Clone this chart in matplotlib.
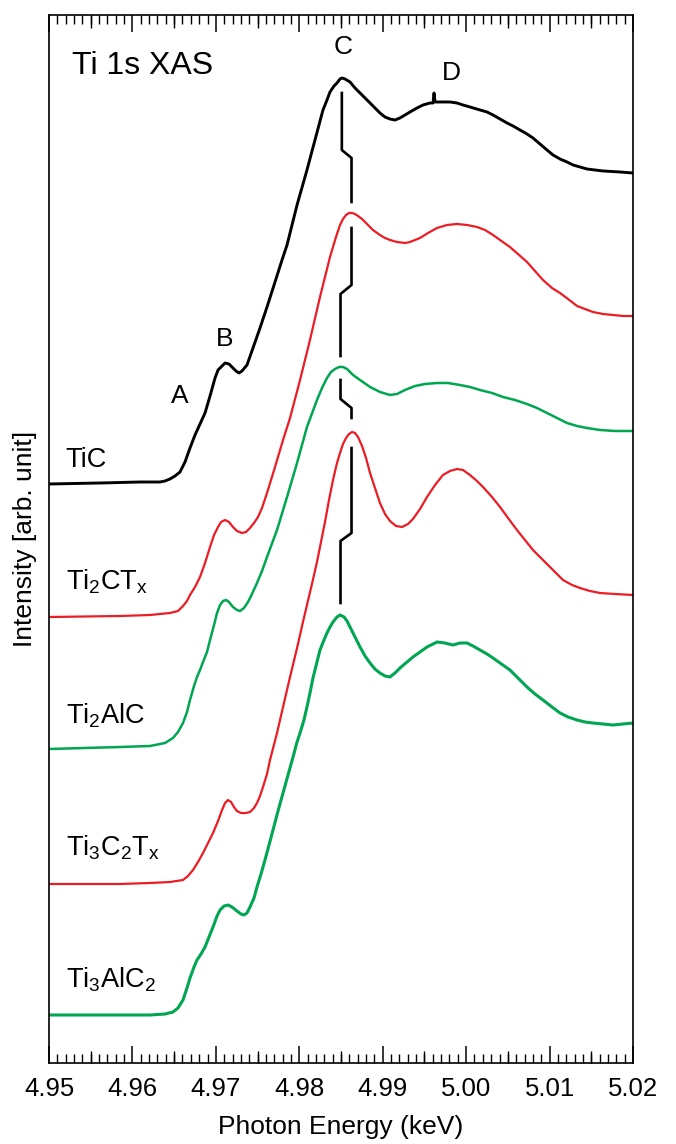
import matplotlib.pyplot as plt
from matplotlib.ticker import MultipleLocator, FormatStrFormatter

plt.rcParams['font.family'] = ['Liberation Sans', 'DejaVu Sans']
plt.rcParams['mathtext.fontset'] = 'custom'
plt.rcParams['mathtext.rm'] = 'Liberation Sans'

# %%
# spectra (photon energy in keV, normalised intensity)

# TiC
tic_e = [4.95000, 4.95611, 4.96091, 4.96330, 4.96390, 4.96450, 4.96510, 4.96570,
         4.96630, 4.96690, 4.96750, 4.96810, 4.96870, 4.96930, 4.96990, 4.97026,
         4.97074, 4.97110, 4.97157, 4.97205, 4.97241, 4.97277, 4.97313, 4.97373,
         4.97445, 4.97529, 4.97613, 4.97709, 4.97793, 4.97853, 4.97913, 4.97973,
         4.98092, 4.98188, 4.98284, 4.98332, 4.98368, 4.98416, 4.98452, 4.98488,
         4.98512, 4.98548, 4.98608, 4.98668, 4.98728, 4.98788, 4.98848, 4.98907,
         4.98967, 4.99027, 4.99087, 4.99147, 4.99207, 4.99267, 4.99327, 4.99411,
         4.99483, 4.99567, 4.99603, 4.99615, 4.99627, 4.99687, 4.99806, 4.99890,
         4.99962, 5.00046, 5.00166, 5.00250, 5.00322, 5.00406, 5.00490, 5.00562,
         5.00645, 5.00729, 5.00801, 5.00885, 5.00969, 5.01041, 5.01125, 5.01209,
         5.01281, 5.01365, 5.01449, 5.01544, 5.01640, 5.01844, 5.02000]
tic_i = [0.00, 0.01, 0.02, 0.02, 0.03, 0.05, 0.08, 0.12,
         0.22, 0.36, 0.49, 0.60, 0.71, 0.88, 1.06, 1.14,
         1.18, 1.21, 1.20, 1.16, 1.13, 1.11, 1.13, 1.19,
         1.36, 1.56, 1.77, 2.02, 2.24, 2.39, 2.59, 2.79,
         3.14, 3.44, 3.74, 3.84, 3.92, 3.98, 4.01, 4.05,
         4.06, 4.05, 4.02, 3.96, 3.91, 3.86, 3.81, 3.76,
         3.71, 3.67, 3.65, 3.64, 3.66, 3.69, 3.72, 3.76,
         3.79, 3.81, 3.81, 3.91, 3.82, 3.82, 3.82, 3.81,
         3.79, 3.77, 3.74, 3.72, 3.69, 3.65, 3.61, 3.58,
         3.54, 3.50, 3.46, 3.40, 3.34, 3.29, 3.25, 3.22,
         3.19, 3.17, 3.15, 3.14, 3.13, 3.12, 3.11]

# Ti2CTx
ti2ctx_e = [4.95000, 4.95851, 4.96211, 4.96450, 4.96546, 4.96606, 4.96654, 4.96690,
            4.96750, 4.96810, 4.96870, 4.96930, 4.96978, 4.97026, 4.97062, 4.97110,
            4.97157, 4.97205, 4.97253, 4.97313, 4.97361, 4.97409, 4.97457, 4.97505,
            4.97553, 4.97613, 4.97709, 4.97805, 4.97889, 4.98009, 4.98128, 4.98248,
            4.98368, 4.98440, 4.98488, 4.98524, 4.98560, 4.98596, 4.98632, 4.98668,
            4.98704, 4.98752, 4.98812, 4.98883, 4.98967, 4.99027, 4.99087, 4.99171,
            4.99267, 4.99327, 4.99387, 4.99447, 4.99543, 4.99651, 4.99770, 4.99890,
            5.00010, 5.00130, 5.00226, 5.00322, 5.00406, 5.00525, 5.00621, 5.00729,
            5.00825, 5.00921, 5.01029, 5.01125, 5.01221, 5.01329, 5.01424, 5.01520,
            5.01640, 5.01760, 5.01880, 5.02000]
ti2ctx_i = [0.00, 0.01, 0.02, 0.04, 0.06, 0.11, 0.16, 0.22,
            0.30, 0.40, 0.54, 0.70, 0.82, 0.90, 0.95, 0.97,
            0.95, 0.90, 0.86, 0.84, 0.85, 0.89, 0.94, 1.00,
            1.09, 1.24, 1.50, 1.77, 1.99, 2.37, 2.77, 3.20,
            3.60, 3.80, 3.92, 3.98, 4.02, 4.04, 4.04, 4.03,
            4.01, 3.98, 3.93, 3.87, 3.82, 3.79, 3.77, 3.75,
            3.74, 3.75, 3.77, 3.79, 3.84, 3.89, 3.92, 3.93,
            3.92, 3.90, 3.87, 3.82, 3.77, 3.70, 3.63, 3.55,
            3.46, 3.37, 3.29, 3.24, 3.18, 3.11, 3.08, 3.05,
            3.03, 3.02, 3.01, 3.01]

# Ti2AlC
ti2alc_e = [4.95000, 4.95851, 4.96211, 4.96390, 4.96486, 4.96546, 4.96606, 4.96654,
            4.96690, 4.96738, 4.96774, 4.96810, 4.96846, 4.96894, 4.96930, 4.96978,
            4.97014, 4.97050, 4.97086, 4.97122, 4.97157, 4.97205, 4.97253, 4.97289,
            4.97337, 4.97385, 4.97433, 4.97493, 4.97553, 4.97613, 4.97733, 4.97853,
            4.97973, 4.98092, 4.98212, 4.98272, 4.98332, 4.98380, 4.98428, 4.98476,
            4.98524, 4.98572, 4.98644, 4.98728, 4.98848, 4.98967, 4.99087, 4.99171,
            4.99267, 4.99387, 4.99507, 4.99651, 4.99782, 4.99926, 5.00046, 5.00166,
            5.00310, 5.00442, 5.00585, 5.00729, 5.00849, 5.00969, 5.01089, 5.01209,
            5.01329, 5.01449, 5.01604, 5.01784, 5.02000]
ti2alc_i = [0.00, 0.02, 0.03, 0.06, 0.11, 0.17, 0.26, 0.37,
            0.49, 0.63, 0.72, 0.79, 0.87, 0.97, 1.09, 1.24,
            1.36, 1.44, 1.48, 1.49, 1.47, 1.42, 1.39, 1.38,
            1.41, 1.47, 1.55, 1.66, 1.78, 1.92, 2.19, 2.52,
            2.86, 3.22, 3.49, 3.61, 3.71, 3.77, 3.80, 3.82,
            3.82, 3.80, 3.74, 3.69, 3.62, 3.57, 3.54, 3.55,
            3.59, 3.63, 3.65, 3.66, 3.66, 3.64, 3.62, 3.59,
            3.56, 3.52, 3.49, 3.45, 3.41, 3.36, 3.31, 3.26,
            3.23, 3.21, 3.19, 3.18, 3.18]

# Ti3C2Tx
ti3c2tx_e = [4.95000, 4.95851, 4.96211, 4.96450, 4.96606, 4.96666, 4.96726, 4.96786,
             4.96846, 4.96906, 4.96966, 4.97026, 4.97074, 4.97110, 4.97146, 4.97182,
             4.97217, 4.97253, 4.97301, 4.97361, 4.97409, 4.97457, 4.97493, 4.97529,
             4.97565, 4.97613, 4.97649, 4.97733, 4.97805, 4.97889, 4.97973, 4.98044,
             4.98092, 4.98152, 4.98212, 4.98260, 4.98308, 4.98356, 4.98404, 4.98452,
             4.98488, 4.98524, 4.98560, 4.98596, 4.98632, 4.98668, 4.98704, 4.98752,
             4.98800, 4.98848, 4.98907, 4.98967, 4.99027, 4.99087, 4.99159, 4.99231,
             4.99303, 4.99363, 4.99447, 4.99531, 4.99627, 4.99722, 4.99806, 4.99890,
             4.99962, 5.00046, 5.00130, 5.00202, 5.00310, 5.00406, 5.00502, 5.00609,
             5.00705, 5.00801, 5.00909, 5.01005, 5.01089, 5.01161, 5.01269, 5.01365,
             5.01484, 5.01604, 5.01784, 5.02000]
ti3c2tx_i = [0.00, 0.00, 0.01, 0.02, 0.04, 0.08, 0.14, 0.22,
             0.31, 0.41, 0.51, 0.63, 0.74, 0.81, 0.84, 0.82,
             0.77, 0.73, 0.71, 0.71, 0.72, 0.76, 0.81, 0.88,
             0.97, 1.10, 1.24, 1.51, 1.77, 2.07, 2.36, 2.62,
             2.79, 3.00, 3.22, 3.42, 3.62, 3.84, 4.04, 4.21,
             4.31, 4.40, 4.46, 4.50, 4.52, 4.51, 4.47, 4.38,
             4.26, 4.11, 3.96, 3.81, 3.70, 3.63, 3.58, 3.57,
             3.60, 3.65, 3.75, 3.87, 3.99, 4.09, 4.13, 4.15,
             4.14, 4.09, 4.03, 3.97, 3.87, 3.77, 3.66, 3.54,
             3.44, 3.34, 3.25, 3.17, 3.10, 3.04, 2.99, 2.96,
             2.93, 2.91, 2.90, 2.89]

# Ti3AlC2
ti3alc2_e = [4.95000, 4.95851, 4.96211, 4.96390, 4.96486, 4.96546, 4.96606, 4.96654,
             4.96690, 4.96738, 4.96774, 4.96822, 4.96870, 4.96918, 4.96966, 4.97014,
             4.97050, 4.97098, 4.97146, 4.97193, 4.97253, 4.97301, 4.97337, 4.97373,
             4.97409, 4.97457, 4.97493, 4.97541, 4.97589, 4.97637, 4.97685, 4.97745,
             4.97805, 4.97865, 4.97925, 4.97973, 4.98009, 4.98056, 4.98092, 4.98128,
             4.98164, 4.98212, 4.98248, 4.98296, 4.98332, 4.98368, 4.98404, 4.98452,
             4.98488, 4.98536, 4.98572, 4.98608, 4.98668, 4.98728, 4.98788, 4.98848,
             4.98907, 4.98967, 4.99027, 4.99087, 4.99147, 4.99207, 4.99291, 4.99363,
             4.99447, 4.99531, 4.99651, 4.99746, 4.99842, 4.99926, 5.00010, 5.00082,
             5.00166, 5.00250, 5.00322, 5.00406, 5.00525, 5.00621, 5.00729, 5.00825,
             5.00921, 5.01029, 5.01125, 5.01221, 5.01329, 5.01424, 5.01520, 5.01640,
             5.01760, 5.01880, 5.02000]
ti3alc2_i = [0.00, 0.00, 0.00, 0.01, 0.03, 0.07, 0.15, 0.27,
             0.37, 0.48, 0.55, 0.61, 0.68, 0.78, 0.88, 0.99,
             1.05, 1.09, 1.10, 1.08, 1.04, 1.01, 1.00, 1.02,
             1.08, 1.17, 1.28, 1.41, 1.55, 1.70, 1.85, 2.04,
             2.22, 2.40, 2.58, 2.73, 2.82, 2.95, 3.08, 3.22,
             3.37, 3.53, 3.65, 3.75, 3.82, 3.88, 3.93, 3.98,
             4.00, 3.98, 3.94, 3.88, 3.78, 3.68, 3.59, 3.52,
             3.46, 3.42, 3.39, 3.38, 3.42, 3.47, 3.53, 3.58,
             3.63, 3.68, 3.73, 3.72, 3.70, 3.72, 3.72, 3.69,
             3.65, 3.61, 3.57, 3.52, 3.45, 3.37, 3.28, 3.21,
             3.15, 3.08, 3.02, 2.98, 2.95, 2.93, 2.92, 2.91,
             2.90, 2.91, 2.92]

names = ['TiC',
         r'Ti$_{\mathregular{2}}$CT$_{\mathregular{x}}$',
         r'Ti$_{\mathregular{2}}$AlC',
         r'Ti$_{\mathregular{3}}$C$_{\mathregular{2}}$T$_{\mathregular{x}}$',
         r'Ti$_{\mathregular{3}}$AlC$_{\mathregular{2}}$']
peak_names = ['A', 'B', 'C', 'D']
xticks = [4.95, 4.96, 4.97, 4.98, 4.99, 5.00, 5.01, 5.02]

# %%
RED = '#ED1C24'
GREEN = '#00A651'

energies = [tic_e, ti2ctx_e, ti2alc_e, ti3c2tx_e, ti3alc2_e]
intens = [tic_i, ti2ctx_i, ti2alc_i, ti3c2tx_i, ti3alc2_i]
colors = ['black', RED, GREEN, RED, GREEN]
widths = [2.1, 1.6, 1.8, 1.6, 2.2]
offsets = [5.79, 4.46, 3.14, 1.79, 0.48]
label_y = [5.96, 4.73, 3.39, 2.08, 0.76]

fig = plt.figure(figsize=(6.76, 11.44), dpi=100)
ax = fig.add_axes([0.0725, 0.0708, 0.8639, 0.9161])

for e, i, c, w, off, name, ly in zip(energies, intens, colors, widths,
                                     offsets, names, label_y):
    ax.plot(e, [v + off for v in i], color=c, lw=w)
    ax.text(4.9520, ly, name, fontsize=19.5, va='baseline', ha='left')

# guide lines linking the C peak positions
xl, xr = 4.98510, 4.98626
xg = 4.98494
guides = [([xl, xl, xr, xr], [9.70, 9.13, 9.05, 8.61]),
          ([xr, xr, xg, xg], [8.35, 7.78, 7.69, 7.07]),
          ([xg, xg, xr, xr], [6.83, 6.64, 6.55, 6.45]),
          ([xr, xr, xg, xg], [6.15, 5.30, 5.22, 4.60])]
for gx, gy in guides:
    ax.plot(gx, gy, color='black', lw=1.9)

peak_pos = [(4.9657, 6.67), (4.9710, 7.24), (4.9852, 10.16), (4.9982, 9.90)]
for lab, (px, py) in zip(peak_names, peak_pos):
    ax.text(px, py, lab, fontsize=19, ha='center', va='center')

ax.text(4.9528, 9.89, 'Ti 1s XAS', fontsize=23, ha='left', va='baseline')

ax.set_xlim(4.95, 5.02)
ax.set_ylim(0, 10.48)
ax.set_xticks(xticks)
ax.xaxis.set_major_formatter(FormatStrFormatter('%.2f'))
ax.xaxis.set_minor_locator(MultipleLocator(0.001))
ax.set_yticks([])
ax.tick_params(axis='x', which='major', direction='in', length=12, width=1.1,
               top=True, labelsize=18.5, pad=10)
ax.tick_params(axis='x', which='minor', direction='in', length=6.5, width=1.0,
               top=True)
for side in ['bottom', 'top']:
    sec = ax.secondary_xaxis(side)
    sec.set_xticks([4.955, 4.965, 4.975, 4.985, 4.995, 5.005, 5.015])
    sec.tick_params(direction='in', length=9, width=1.0, labelbottom=False,
                    labeltop=False)
    sec.spines[side].set_visible(False)
for s in ax.spines.values():
    s.set_linewidth(1.2)

ax.set_xlabel('Photon Energy (keV)', fontsize=19, labelpad=10)
ax.set_ylabel('Intensity [arb. unit]', fontsize=19, labelpad=9)

fig.savefig('out.png', dpi=100)
